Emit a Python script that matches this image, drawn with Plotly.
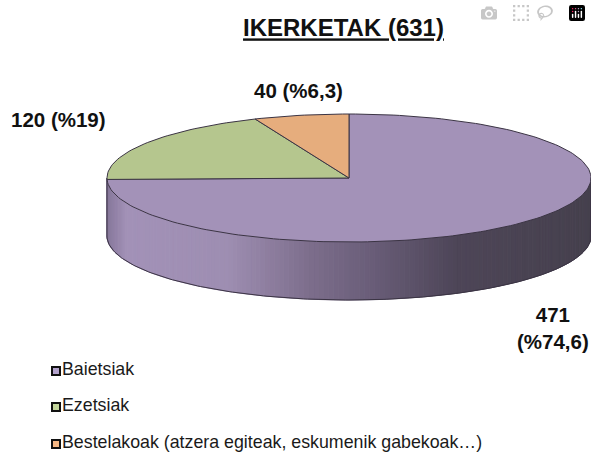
import math
import plotly.graph_objects as go

title = "IKERKETAK (631)"
categories = ["Baietsiak", "Ezetsiak", "Bestelakoak (atzera egiteak, eskumenik gabekoak…)"]
values = [471, 120, 40]
value_labels = ["471<br>(%74,6)", "120 (%19)", "40 (%6,3)"]
top_colors = ["#a392b8", "#b5c68e", "#e6ad7d"]
legend_colors = ["#b3a2cc", "#c3d69b", "#f5b784"]

# Drawing geometry (pixel-like plot space)
W, H = 591, 452
CX, CY, RX, RY, DEPTH = 349, 178, 242, 64, 58
EDGE = "#3b3444"
# wall shading stops: fraction across the pie width -> colour
wall_stops = [(0.0, (135, 120, 155)), (0.04, (163, 146, 184)), (0.25, (158, 142, 178)),
              (0.42, (125, 110, 140)), (0.55, (105, 93, 120)), (0.72, (78, 70, 88)),
              (1.0, (70, 65, 78))]


def wall_colour(f):
    for (a, ca), (b, cb) in zip(wall_stops, wall_stops[1:]):
        if f <= b:
            k = (f - a) / (b - a)
            return "rgb(%d,%d,%d)" % tuple(ca[i] + k * (cb[i] - ca[i]) for i in range(3))
    return "rgb(70,65,78)"


def px(a):
    return CX + RX * math.sin(a)


def py(a):
    return CY - RY * math.cos(a)


fig = go.Figure()
STEPS = 150
# side wall, built as thin strips along the front half of the rim
for i in range(STEPS):
    a0 = math.pi / 2 + math.pi * i / STEPS
    a1 = math.pi / 2 + math.pi * (i + 1) / STEPS
    f = (px((a0 + a1) / 2) - (CX - RX)) / (2 * RX)
    c = wall_colour(f)
    fig.add_trace(go.Scatter(
        x=[px(a0), px(a1), px(a1), px(a0), px(a0)],
        y=[py(a0), py(a1), py(a1) + DEPTH, py(a0) + DEPTH, py(a0)],
        mode="lines", fill="toself", fillcolor=c, line=dict(color=c, width=1),
        hoverinfo="skip", showlegend=False))
# wall outline
arc = [math.pi / 2 + math.pi * i / 200 for i in range(201)]
fig.add_trace(go.Scatter(
    x=[px(arc[0])] + [px(a) for a in arc] + [px(arc[-1])],
    y=[py(arc[0])] + [py(a) + DEPTH for a in arc] + [py(arc[-1])],
    mode="lines", line=dict(color=EDGE, width=1), hoverinfo="skip", showlegend=False))

# top face: sectors from the values, clockwise from 12 o'clock
total = sum(values)
start = 0.0
for v, c, name in zip(values, top_colors, categories):
    end = start + 2 * math.pi * v / total
    n = max(2, int(240 * v / total))
    angs = [start + (end - start) * j / n for j in range(n + 1)]
    fig.add_trace(go.Scatter(
        x=[CX] + [px(a) for a in angs] + [CX],
        y=[CY] + [py(a) for a in angs] + [CY],
        mode="lines", fill="toself", fillcolor=c, line=dict(color=EDGE, width=1),
        name=name, hoverinfo="name", showlegend=False))
    start = end

# legend rows
legend_x, legend_y = 56, [371, 407, 444]
for name, c, y in zip(categories, legend_colors, legend_y):
    fig.add_trace(go.Scatter(
        x=[legend_x], y=[y], mode="markers+text", text=[name], textposition="middle right",
        marker=dict(symbol="square", size=8, color=c, line=dict(color="#111111", width=2)),
        textfont=dict(family="Liberation Sans, Arial", size=17.8, color="#1a1a1a"),
        hoverinfo="skip", showlegend=False))

label_pos = [(553, 328), (58, 119), (298, 90)]
annotations = [dict(x=x, y=y, text="<b>%s</b>" % t, showarrow=False, xref="x", yref="y",
                    font=dict(family="Liberation Sans, Arial", size=20.5, color="#111111"))
               for t, (x, y) in zip(value_labels, label_pos)]

fig.update_layout(
    width=W, height=H, margin=dict(l=0, r=0, t=0, b=0), autosize=False,
    paper_bgcolor="white", plot_bgcolor="white", showlegend=False,
    title=dict(text="<b><u>%s</u></b>" % title, x=343.5 / W, xanchor="center", y=1 - 28 / H, yanchor="middle",
               font=dict(family="Liberation Sans, Arial", size=24, color="#111111")),
    xaxis=dict(range=[0, W], visible=False, fixedrange=True),
    yaxis=dict(range=[H, 0], visible=False, fixedrange=True),
    annotations=annotations,
)
fig.write_html("out.html", post_script="document.body.style.margin='0';")
